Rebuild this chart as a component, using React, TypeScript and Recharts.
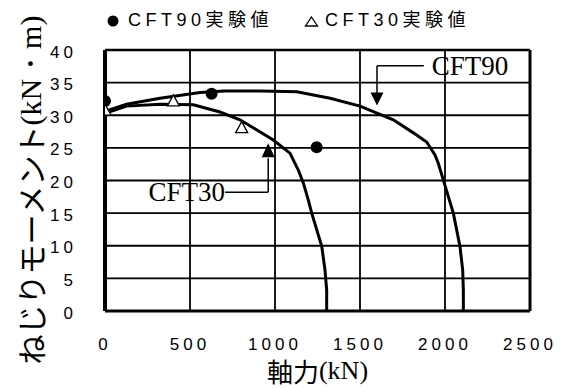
import { ComposedChart, Line, Scatter, XAxis, YAxis, CartesianGrid, ReferenceLine } from 'recharts';

const xTicks = [0, 500, 1000, 1500, 2000, 2500];
const yTicks = [0, 5, 10, 15, 20, 25, 30, 35, 40];

// 相関曲線 (軸力 kN, ねじりモーメント kN・m)
const cft90Curve = [
  { x: 0, y: 30.6 }, { x: 127, y: 31.7 }, { x: 324, y: 32.6 }, { x: 559, y: 33.5 },
  { x: 700, y: 33.7 }, { x: 912, y: 33.7 }, { x: 1128, y: 33.6 }, { x: 1324, y: 32.6 },
  { x: 1500, y: 31.4 }, { x: 1696, y: 29.3 }, { x: 1814, y: 27.3 }, { x: 1892, y: 25.9 },
  { x: 1941, y: 23.9 }, { x: 1961, y: 22.6 }, { x: 1990, y: 20.1 }, { x: 2049, y: 15.0 },
  { x: 2088, y: 9.9 }, { x: 2104, y: 6.3 }, { x: 2108, y: 3.2 }, { x: 2108, y: 0 },
];
const cft30Curve = [
  { x: 0, y: 30.3 }, { x: 127, y: 31.4 }, { x: 324, y: 31.7 }, { x: 520, y: 31.6 },
  { x: 676, y: 30.5 }, { x: 794, y: 29.3 }, { x: 990, y: 26.2 }, { x: 1088, y: 24.2 },
  { x: 1137, y: 21.6 }, { x: 1167, y: 19.6 }, { x: 1196, y: 17.0 }, { x: 1216, y: 15.0 },
  { x: 1275, y: 9.9 }, { x: 1294, y: 6.3 }, { x: 1304, y: 3.2 }, { x: 1304, y: 0 },
];

// 実験値
const cft90Test = [{ x: 0, y: 32.2 }, { x: 627, y: 33.3 }, { x: 1245, y: 25.1 }];
const cft30Test = [{ x: 0, y: 30.8 }, { x: 402, y: 32.2 }, { x: 804, y: 28.1 }];

// 注記 (矢印と曲線名)
const arrowHeads = [{ x: 1600, y: 31.5, dir: 'down' }, { x: 960, y: 25.7, dir: 'up' }];
const curveLabels = [
  { x: 1922, y: 37.6, text: 'CFT90', anchor: 'start' },
  { x: 706, y: 18.2, text: 'CFT30', anchor: 'end' },
];

const SANS = "'Liberation Sans', Arial, sans-serif";
const SERIF = "'Liberation Serif', 'Times New Roman', serif";
const CJK = "'Noto Sans CJK JP', sans-serif";

const XTick = ({ x, y, payload }: any) => (
  <text x={x} y={y + 33} textAnchor="middle" dominantBaseline="central" fontSize={17} letterSpacing={4} fontFamily={SANS} fill="#000">
    {payload.value}
  </text>
);

const YTick = ({ x, y, payload }: any) => (
  <text x={x - 28} y={y + 2} textAnchor="end" dominantBaseline="central" fontSize={17} letterSpacing={4} fontFamily={SANS} fill="#000">
    {payload.value}
  </text>
);

const Dot = ({ cx, cy }: any) => <circle cx={cx} cy={cy} r={6} fill="#000" />;

const Tri = ({ cx, cy }: any) => (
  <path d={`M${cx},${cy - 6} L${cx + 6},${cy + 5} L${cx - 6},${cy + 5} Z`} fill="#fff" stroke="#000" strokeWidth={1.3} />
);

const ArrowHead = ({ cx, cy, payload }: any) => {
  const h = payload.dir === 'down' ? -13 : 14;
  return <path d={`M${cx},${cy} L${cx + 6.5},${cy + h} L${cx - 6.5},${cy + h} Z`} fill="#000" />;
};

const CurveLabel = ({ cx, cy, payload }: any) => (
  <text x={cx} y={cy} textAnchor={payload.anchor} dominantBaseline="central" fontSize={27} fontFamily={SERIF} fill="#000">
    {payload.text}
  </text>
);

const XTitle = ({ viewBox }: any) => (
  <text x={viewBox.x + viewBox.width / 2} y={viewBox.y + 59} textAnchor="middle" dominantBaseline="central" fontSize={26} fill="#000">
    <tspan fontFamily={CJK}>軸力</tspan>
    <tspan fontFamily={SERIF}>(kN)</tspan>
  </text>
);

const YTitle = () => (
  <text x={30} y={190} transform="rotate(-90, 30, 190)" textAnchor="middle" dominantBaseline="central" fontSize={30} fill="#000">
    <tspan fontFamily={CJK}>ねじりモーメント</tspan>
    <tspan fontFamily={SERIF}>(kN・m)</tspan>
  </text>
);

const legendText = { position: 'absolute' as const, top: 9, fontSize: 18, letterSpacing: 4.5, fontFamily: `${SANS.split(',')[0]}, ${CJK}`, lineHeight: '22px', color: '#000' };

export default function App() {
  return (
    <div style={{ position: 'relative', width: 561, height: 388, background: '#fff' }}>
      <style>{'body{margin:0}'}</style>
      <svg style={{ position: 'absolute', left: 0, top: 0 }} width={561} height={40}>
        <circle cx={113} cy={21} r={5.5} fill="#000" />
        <path d="M311.5,17 L317.5,26 L305.5,26 Z" fill="#fff" stroke="#000" strokeWidth={1.3} />
      </svg>
      <span style={{ ...legendText, left: 128 }}>CFT90実験値</span>
      <span style={{ ...legendText, left: 325 }}>CFT30実験値</span>
      <ComposedChart width={561} height={388} margin={{ top: 50, right: 31, bottom: 0, left: 0 }}>
        <CartesianGrid stroke="#000" strokeWidth={1.8} />
        <XAxis
          type="number"
          dataKey="x"
          domain={[0, 2500]}
          ticks={xTicks}
          height={77}
          tickLine={false}
          tickSize={0}
          tickMargin={0}
          axisLine={{ stroke: '#000', strokeWidth: 3 }}
          tick={<XTick />}
          label={<XTitle />}
          allowDataOverflow
        />
        <YAxis
          type="number"
          dataKey="y"
          domain={[0, 40]}
          ticks={yTicks}
          width={105}
          tickLine={false}
          tickSize={0}
          tickMargin={0}
          axisLine={{ stroke: '#000', strokeWidth: 4 }}
          tick={<YTick />}
          label={<YTitle />}
          allowDataOverflow
        />
        <ReferenceLine y={40} stroke="#000" strokeWidth={2.5} />
        <ReferenceLine x={2500} stroke="#000" strokeWidth={3} />
        <ReferenceLine segment={[{ x: 1600, y: 37.6 }, { x: 1875, y: 37.6 }]} stroke="#000" strokeWidth={1.5} />
        <ReferenceLine segment={[{ x: 1600, y: 37.6 }, { x: 1600, y: 33.4 }]} stroke="#000" strokeWidth={1.5} />
        <ReferenceLine segment={[{ x: 706, y: 18.2 }, { x: 960, y: 18.2 }]} stroke="#000" strokeWidth={1.5} />
        <ReferenceLine segment={[{ x: 960, y: 18.2 }, { x: 960, y: 23.4 }]} stroke="#000" strokeWidth={1.5} />
        <Line data={cft90Curve} dataKey="y" type="linear" stroke="#000" strokeWidth={3} dot={false} isAnimationActive={false} />
        <Line data={cft30Curve} dataKey="y" type="linear" stroke="#000" strokeWidth={3} dot={false} isAnimationActive={false} />
        <Scatter data={cft90Test} dataKey="y" shape={<Dot />} isAnimationActive={false} />
        <Scatter data={cft30Test} dataKey="y" shape={<Tri />} isAnimationActive={false} />
        <Scatter data={arrowHeads} dataKey="y" shape={<ArrowHead />} isAnimationActive={false} />
        <Scatter data={curveLabels} dataKey="y" shape={<CurveLabel />} isAnimationActive={false} />
      </ComposedChart>
    </div>
  );
}
